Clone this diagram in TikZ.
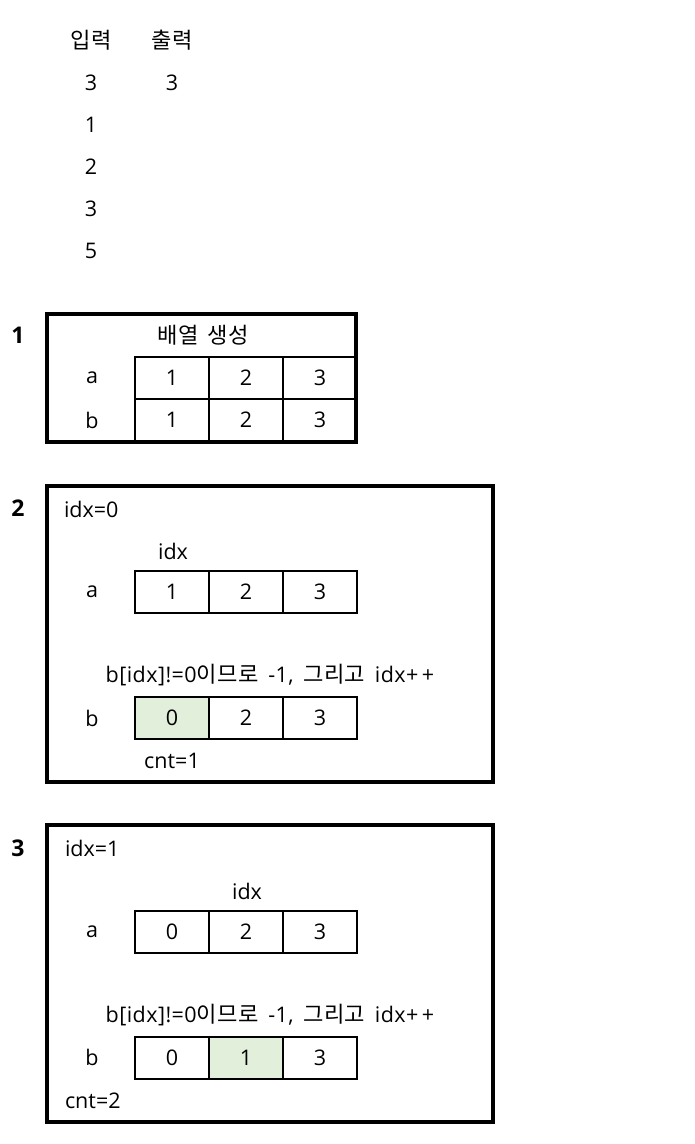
\documentclass[tikz,border=0pt]{standalone}
\usepackage{fontspec}
\setmainfont{Open Sans}
\newfontfamily\kr[Scale=1.03]{Noto Sans CJK KR}
\newfontfamily\widel[LetterSpace=2,WordSpace=1.6]{Open Sans}
\newfontfamily\widekr[Scale=1.03,LetterSpace=2,WordSpace=1.6]{Noto Sans CJK KR}
\begin{document}
\begin{tikzpicture}[x=1pt,y=-1pt,
  every node/.style={font=\fontsize{21.5}{25}\selectfont, inner sep=0pt, outer sep=0pt},
  cell/.style={draw, line width=2pt, minimum width=74pt, minimum height=42pt, anchor=north west},
  hot/.style={cell, fill=hlgreen},
  frame/.style={draw, line width=4pt, anchor=north west},
  num/.style={font=\fontsize{23}{26}\selectfont\bfseries},
  note/.style={font=\fontsize{21.5}{25}\selectfont\widel}]
\definecolor{hlgreen}{HTML}{E2EFDA}
\useasboundingbox (0,0) rectangle (694,1144);
% input / output
\node (in) at (91,40) {\kr 입력};
\node (out) at (172,40) {\kr 출력};
\node (i1) at (91,83) {3};
\node (o1) at (172,83) {3};
\node (i2) at (91,125) {1};
\node (i3) at (91,167) {2};
\node (i4) at (91,209) {3};
\node (i5) at (91,251) {5};
% panel 1
\node[num] (n1) at (18,335) {1};
\node (t1) at (203,335) {\widekr 배열 생성};
\node (a1l) at (92,378) {a};
\node (b1l) at (92,420) {b};
\node[cell] (a11) at (135,357) {1};
\node[cell] (a12) at (209,357) {2};
\node[cell] (a13) at (283,357) {3};
\node[cell] (b11) at (135,399) {1};
\node[cell] (b12) at (209,399) {2};
\node[cell] (b13) at (283,399) {3};
\node[frame, minimum width=309pt, minimum height=128pt] (p1) at (47,314) {};
% panel 2
\node[num] (n2) at (18,508) {2};
\node[anchor=west] (x2) at (64,509) {idx=0};
\node (id2) at (173,551) {idx};
\node (a2l) at (92,592) {a};
\node[cell] (a21) at (135,571) {1};
\node[cell] (a22) at (209,571) {2};
\node[cell] (a23) at (283,571) {3};
\node[note] (c2) at (270,675) {b[idx]!=0{\widekr 이므로} -1, {\widekr 그리고} idx+\,+};
\node (b2l) at (92,718) {b};
\node[hot] (b21) at (135,697) {0};
\node[cell] (b22) at (209,697) {2};
\node[cell] (b23) at (283,697) {3};
\node (cnt2) at (172,761) {cnt=1};
\node[frame, minimum width=446pt, minimum height=296pt] (p2) at (47,486) {};
% panel 3
\node[num] (n3) at (18,848) {3};
\node[anchor=west] (x3) at (65,848) {idx=1};
\node (id3) at (247,891) {idx};
\node (a3l) at (92,932) {a};
\node[cell] (a31) at (135,911) {0};
\node[cell] (a32) at (209,911) {2};
\node[cell] (a33) at (283,911) {3};
\node[note] (c3) at (270,1015) {b[idx]!=0{\widekr 이므로} -1, {\widekr 그리고} idx+\,+};
\node (b3l) at (92,1057) {b};
\node[cell] (b31) at (135,1037) {0};
\node[hot] (b32) at (209,1037) {1};
\node[cell] (b33) at (283,1037) {3};
\node[anchor=west] (cnt3) at (65,1101) {cnt=2};
\node[frame, minimum width=446pt, minimum height=297pt] (p3) at (47,825) {};
\end{tikzpicture}
\end{document}
